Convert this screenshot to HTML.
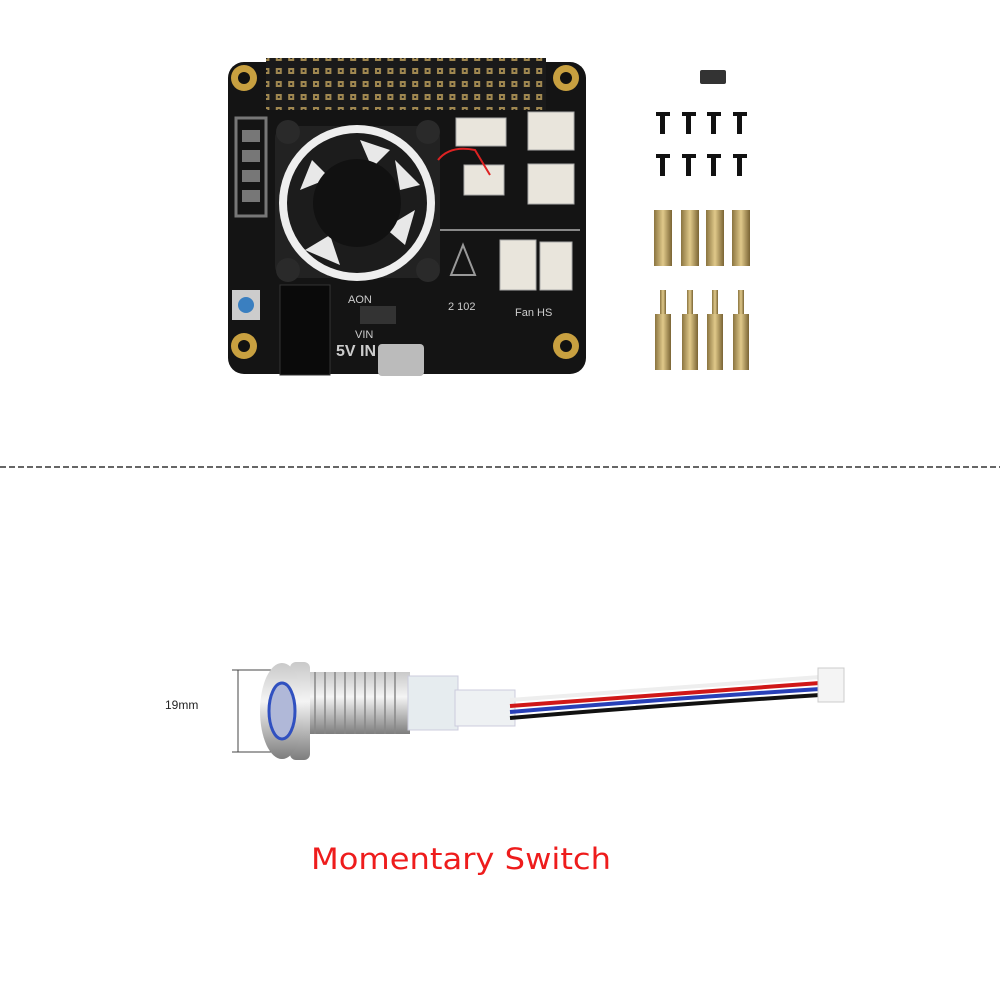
<!DOCTYPE html>
<html><head><style>
html,body{margin:0;padding:0;background:#fff;width:1000px;height:1000px;overflow:hidden}
svg{display:block}
</style></head><body>
<svg width="1000" height="1000" viewBox="0 0 1000 1000" xmlns="http://www.w3.org/2000/svg">
<defs>
<linearGradient id="brass" x1="0" x2="1"><stop offset="0" stop-color="#8a7440"/><stop offset=".5" stop-color="#e0c98a"/><stop offset="1" stop-color="#7a6434"/></linearGradient>
<linearGradient id="metal" x1="0" y1="0" x2="0" y2="1"><stop offset="0" stop-color="#c9c9c9"/><stop offset=".4" stop-color="#f4f4f4"/><stop offset="1" stop-color="#7d7d7d"/></linearGradient>
<pattern id="pins" width="12.4" height="13" patternUnits="userSpaceOnUse"><rect width="12.4" height="13" fill="#1a1a1a"/><rect x="3" y="3" width="6" height="6" fill="#a08850"/><rect x="5" y="5" width="2" height="2" fill="#222"/></pattern>
</defs>
<rect x="228" y="62" width="358" height="312" rx="16" fill="#141414"/>
<rect x="266" y="58" width="280" height="52" fill="url(#pins)"/>
<g fill="#c8a040"><circle cx="244" cy="78" r="13"/><circle cx="566" cy="78" r="13"/><circle cx="244" cy="346" r="13"/><circle cx="566" cy="346" r="13"/></g>
<g fill="#111"><circle cx="244" cy="78" r="6"/><circle cx="566" cy="78" r="6"/><circle cx="244" cy="346" r="6"/><circle cx="566" cy="346" r="6"/></g>
<rect x="275" y="126" width="165" height="152" rx="12" fill="#222"/>
<circle cx="357" cy="203" r="78" fill="#eee"/>
<circle cx="357" cy="203" r="70" fill="#1c1c1c"/>
<g fill="#e8e8e8">
<path d="M300 190 L312 160 L330 178Z"/><path d="M360 140 L390 150 L372 168Z"/><path d="M415 210 L405 245 L385 228Z"/><path d="M340 265 L305 250 L330 235Z"/><path d="M395 160 L420 185 L400 190Z"/>
</g>
<circle cx="357" cy="203" r="44" fill="#111"/>
<g fill="#2a2a2a"><circle cx="288" cy="132" r="12"/><circle cx="428" cy="132" r="12"/><circle cx="288" cy="270" r="12"/><circle cx="428" cy="270" r="12"/></g>
<rect x="236" y="118" width="30" height="98" fill="none" stroke="#777" stroke-width="3"/>
<g fill="#777"><rect x="242" y="130" width="18" height="12"/><rect x="242" y="150" width="18" height="12"/><rect x="242" y="170" width="18" height="12"/><rect x="242" y="190" width="18" height="12"/></g>
<g fill="#e9e5dc" stroke="#aaa">
<rect x="456" y="118" width="50" height="28"/><rect x="528" y="112" width="46" height="38"/>
<rect x="464" y="165" width="40" height="30"/><rect x="528" y="164" width="46" height="40"/>
<rect x="500" y="240" width="36" height="50"/><rect x="540" y="242" width="32" height="48"/>
</g>
<path d="M438 160 Q450 145 475 150 L490 175" stroke="#d22" stroke-width="2" fill="none"/>
<path d="M440 230 H580" stroke="#888" stroke-width="2"/>
<path d="M463 245 l12 30 h-24z" fill="none" stroke="#999" stroke-width="2"/>
<rect x="232" y="290" width="28" height="30" fill="#ccc"/>
<circle cx="246" cy="305" r="8" fill="#3a7fc0"/>
<rect x="280" y="285" width="50" height="90" fill="#0a0a0a" stroke="#333"/>
<rect x="378" y="344" width="46" height="32" rx="4" fill="#bbb"/>
<rect x="360" y="306" width="36" height="18" fill="#333"/>
<g fill="#ccc" font-family="Liberation Sans, sans-serif" font-size="11">
<text x="348" y="303">AON</text><text x="355" y="338">VIN</text><text x="448" y="310">2 102</text><text x="515" y="316">Fan HS</text>
<text x="336" y="356" font-size="16" font-weight="bold">5V IN</text>
</g>
<rect x="700" y="70" width="26" height="14" rx="2" fill="#333"/>
<g fill="#111">
<g><rect x="656" y="112" width="14" height="4"/><rect x="660" y="112" width="5" height="22"/></g>
<g><rect x="682" y="112" width="14" height="4"/><rect x="686" y="112" width="5" height="22"/></g>
<g><rect x="707" y="112" width="14" height="4"/><rect x="711" y="112" width="5" height="22"/></g>
<g><rect x="733" y="112" width="14" height="4"/><rect x="737" y="112" width="5" height="22"/></g>
<g><rect x="656" y="154" width="14" height="4"/><rect x="660" y="154" width="5" height="22"/></g>
<g><rect x="682" y="154" width="14" height="4"/><rect x="686" y="154" width="5" height="22"/></g>
<g><rect x="707" y="154" width="14" height="4"/><rect x="711" y="154" width="5" height="22"/></g>
<g><rect x="733" y="154" width="14" height="4"/><rect x="737" y="154" width="5" height="22"/></g>
</g>
<g fill="url(#brass)">
<rect x="654" y="210" width="18" height="56"/><rect x="681" y="210" width="18" height="56"/><rect x="706" y="210" width="18" height="56"/><rect x="732" y="210" width="18" height="56"/>
<rect x="660" y="290" width="6" height="24"/><rect x="687" y="290" width="6" height="24"/><rect x="712" y="290" width="6" height="24"/><rect x="738" y="290" width="6" height="24"/>
<rect x="655" y="314" width="16" height="56"/><rect x="682" y="314" width="16" height="56"/><rect x="707" y="314" width="16" height="56"/><rect x="733" y="314" width="16" height="56"/>
</g>
<line x1="0" y1="467" x2="1000" y2="467" stroke="#333" stroke-width="1.5" stroke-dasharray="6,3"/>
<path d="M238 670 V752 M232 670 H290 M232 752 H290" stroke="#444" stroke-width="1"/>
<text x="165" y="709" font-family="Liberation Sans, sans-serif" font-size="12" fill="#222">19mm</text>
<rect x="300" y="672" width="110" height="62" fill="url(#metal)"/>
<g stroke="#888" stroke-width="1.5"><path d="M315 672v62M325 672v62M335 672v62M345 672v62M355 672v62M365 672v62M375 672v62M385 672v62M395 672v62"/></g>
<rect x="290" y="662" width="20" height="98" rx="6" fill="url(#metal)"/>
<ellipse cx="282" cy="711" rx="22" ry="48" fill="url(#metal)"/>
<ellipse cx="282" cy="711" rx="13" ry="28" fill="#b0b8d8" stroke="#3050c0" stroke-width="3"/>
<rect x="408" y="676" width="50" height="54" fill="#e6ecef" stroke="#ccd"/>
<rect x="455" y="690" width="60" height="36" fill="#eef1f3" stroke="#ccd"/>
<g fill="none" stroke-width="4">
<path d="M510 700 Q650 690 820 677" stroke="#eee"/>
<path d="M510 706 Q650 696 820 683" stroke="#d01818"/>
<path d="M510 712 Q650 700 820 689" stroke="#2840b8"/>
<path d="M510 718 Q650 706 820 695" stroke="#111"/>
</g>
<rect x="818" y="668" width="26" height="34" fill="#f4f4f4" stroke="#ccc"/>
<text x="311" y="869" font-family="DejaVu Sans, sans-serif" font-size="29" fill="#ee1c1c" textLength="300" lengthAdjust="spacingAndGlyphs">Momentary Switch</text>
</svg>
</body></html>
